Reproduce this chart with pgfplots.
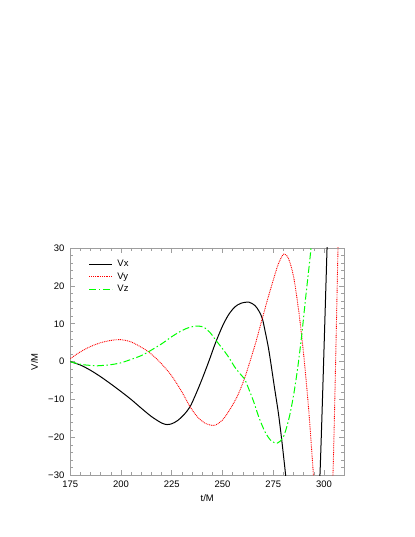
\documentclass[border=0pt]{standalone}
\usepackage{pgfplots}
\pgfplotsset{compat=1.18}
\usepackage{fontspec}
\setmainfont{Liberation Sans}
\newcommand{\gpfont}{\fontsize{9.5}{11}\selectfont}
\definecolor{gpgreen}{rgb}{0,1,0}
\definecolor{gpred}{rgb}{1,0,0}
\definecolor{gpaxis}{rgb}{0.62,0.62,0.62}
\begin{document}
\begin{tikzpicture}
\path[use as bounding box] (0,0) rectangle (415bp,537bp);
\begin{axis}[
  at={(70.3bp,61.7bp)}, anchor=south west,
  width=274bp, height=227.3bp, scale only axis,
  xmin=175, xmax=310, ymin=-30, ymax=30,
  xtick={175,200,...,300}, ytick={-30,-20,...,30},
  yticklabels={−30,−20,−10,0,10,20,30},
  minor x tick num=4, minor y tick num=4,
  /pgf/number format/assume math mode=true,
  tick align=inside,
  major tick length=5bp, minor tick length=3bp,
  axis line style={draw=gpaxis, line width=0.8bp},
  tick style={draw=gpaxis, line width=0.6bp},
  tick label style={font=\gpfont},
  xticklabel style={yshift=-2.5bp},
  yticklabel style={xshift=-2.5bp},
  xlabel={t/M}, ylabel={V/M},
  label style={font=\gpfont},
  xlabel style={at={(axis description cs:0.5,-0.0999)}, anchor=center},
  ylabel style={at={(axis description cs:-0.1307,0.5)}, anchor=center},
  legend style={at={(axis description cs:0,1)}, anchor=north west,
    xshift=18.5bp, yshift=-10bp, draw=none, fill=none, inner sep=0pt,
    row sep=0pt, column sep=3bp, font=\gpfont,
    nodes={inner sep=1.5bp, text height=7bp, text depth=2.5bp}},
  legend cell align=left,
  legend image code/.code={\draw[#1] (0bp,0bp) -- (23bp,0bp);},
]
% Vx
\addplot[black, line width=1bp, smooth] coordinates {
 (175,0)(180,-0.9)(185,-2.3)(190,-4.0)(195,-5.9)(200,-7.9)(205,-10.0)
 (210,-12.3)(215,-14.5)(220,-16.2)(222.6,-16.6)(225,-16.4)(228,-15.5)
 (231,-14.0)(234,-11.9)(237,-8.4)(240,-4.5)(243.2,0)(246.5,4.9)(250,9.4)
 (253,12.4)(256,14.4)(259,15.4)(263,15.7)(266,14.8)(268,13.3)(269.6,11.4)
 (271,8.0)(272.5,4.0)(273.7,0)(275.5,-6.5)(277.5,-13.5)(279.2,-20.8)
 (281.1,-30)(283,-40)(286,-55)(290,-65)(294,-58)(296,-45)(298,-30)
 (301.5,30)(304,75)};
\addlegendentry{Vx}
% Vy
\addplot[gpred, line width=0.9bp, dash pattern=on 0.9bp off 0.9bp, smooth] coordinates {
 (175,0.8)(180,2.6)(185,4.0)(190,5.0)(195,5.6)(200,5.8)(205,5.2)(210,3.8)
 (213.5,2.6)(217,1.0)(220.5,-0.9)(225,-3.8)(230,-8.0)(234,-11.9)(238,-14.8)
 (242,-16.4)(246.1,-16.8)(250,-15.4)(254,-12.3)(257.5,-8.9)(260.8,-4.5)
 (263.5,0)(266.5,5.3)(269.6,11.4)(272.5,17.0)(275,21.5)(277.5,25.8)
 (280.2,28.4)(282.5,27.2)(285,22.5)(287.5,13.5)(289,6.8)(290.5,-1)
 (292.5,-13)(294.8,-30)(297,-48)(299.5,-62)(302,-55)(304.4,-30)(306.9,30)(308.5,70)};
\addlegendentry{Vy}
% Vz
\addplot[gpgreen, line width=1bp, dash pattern=on 7bp off 2.5bp on 1.5bp off 2.5bp, smooth] coordinates {
 (175,0)(180,-0.7)(185,-1.0)(188,-1.1)(191,-1.0)(195,-0.8)(200,-0.3)
 (205,0.6)(210,1.6)(213.5,2.6)(220,4.7)(225,6.6)(230,8.2)(234,9.1)(238,9.4)
 (241,9.0)(244,7.6)(246.5,5.8)(250,3.4)(253,1.2)(256,-1.4)(258.8,-3.3)
 (260.8,-4.5)(263,-7.3)(265.5,-10.8)(268,-14.8)(271,-18.6)(274,-20.9)
 (277,-21.5)(279.5,-20.3)(281,-18.4)(283,-14.4)(285,-8.9)(287,-1.8)
 (289,6.9)(291,17.1)(293.6,30)(295,40)};
\addlegendentry{Vz}
\end{axis}
\end{tikzpicture}
\end{document}
